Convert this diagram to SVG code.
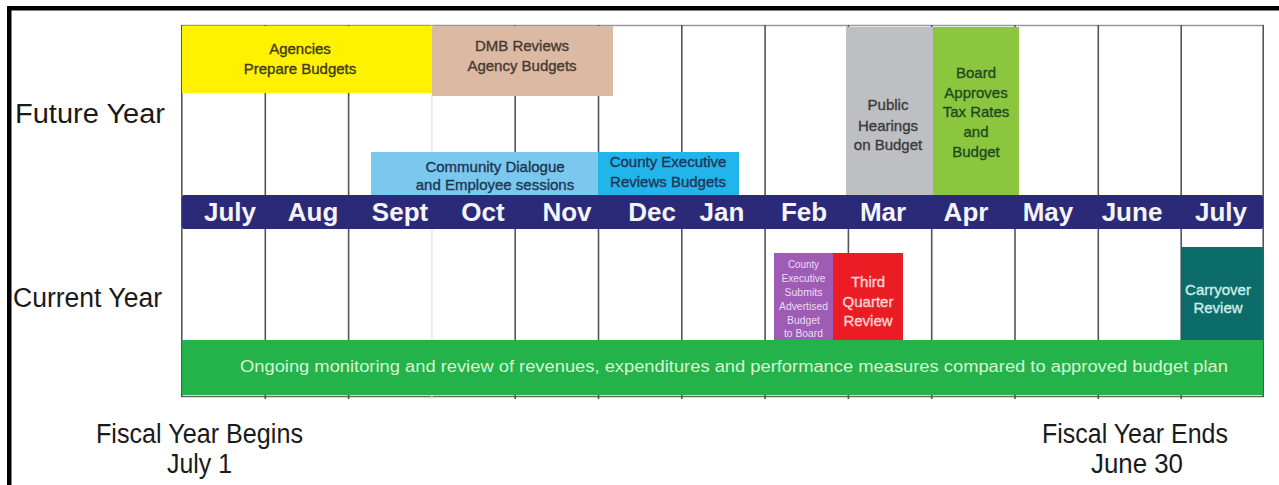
<svg xmlns="http://www.w3.org/2000/svg" width="1279" height="485" viewBox="0 0 1279 485">
  <style>
    .lbl { font-family: "Liberation Sans", Arial, sans-serif; }
    .big { font-size: 27px; fill: #1a1a1a; }
    .month { font-size: 26px; font-weight: bold; fill: #f4f4fa; text-anchor: middle; }
    .box { text-anchor: middle; font-size: 15px; stroke-width: 0.35; }
    .vline { stroke: #555; stroke-width: 1.6; }
  </style>

  <rect x="0" y="0" width="1279" height="485" fill="#ffffff"/>

  <!-- outer frame: heavy top and left rules -->
  <g id="frame">
    <rect x="7" y="6" width="1272" height="4.5" fill="#000"/>
    <rect x="7" y="6" width="4.5" height="479" fill="#000"/>
  </g>

  <!-- month grid -->
  <g id="grid">
    <line x1="181.5" y1="25.5" x2="1264" y2="25.5" stroke="#999" stroke-width="1.5"/>
    <line x1="181.5" y1="396.5" x2="1264" y2="396.5" stroke="#666" stroke-width="1.5"/>
    <line class="vline" x1="181.8" y1="25" x2="181.8" y2="397"/>
    <line class="vline" x1="265.3" y1="25" x2="265.3" y2="399"/>
    <line class="vline" x1="348.6" y1="25" x2="348.6" y2="399"/>
    <line x1="431.9" y1="25" x2="431.9" y2="399" stroke="#e4e4e4" stroke-width="1.2"/>
    <line class="vline" x1="515.2" y1="25" x2="515.2" y2="399"/>
    <line class="vline" x1="598.5" y1="25" x2="598.5" y2="399"/>
    <line class="vline" x1="681.8" y1="25" x2="681.8" y2="399"/>
    <line class="vline" x1="765.1" y1="25" x2="765.1" y2="399"/>
    <line class="vline" x1="848.4" y1="25" x2="848.4" y2="399"/>
    <line class="vline" x1="931.7" y1="25" x2="931.7" y2="399"/>
    <line class="vline" x1="1015" y1="25" x2="1015" y2="399"/>
    <line class="vline" x1="1098.3" y1="25" x2="1098.3" y2="399"/>
    <line class="vline" x1="1181.2" y1="25" x2="1181.2" y2="399"/>
    <line class="vline" x1="1263.2" y1="25" x2="1263.2" y2="397"/>
  </g>

  <!-- row labels -->
  <g id="row-labels" class="lbl">
    <text class="big" x="15" y="123" textLength="150" lengthAdjust="spacingAndGlyphs">Future Year</text>
    <text class="big" x="13" y="307" textLength="149" lengthAdjust="spacingAndGlyphs">Current Year</text>
  </g>

  <!-- future year activities -->
  <g id="agencies-prepare" class="lbl">
    <rect x="182" y="26" width="250" height="67" fill="#fff200"/>
    <text class="box" x="300" y="54" fill="#3e3a1c" stroke="#3e3a1c">Agencies</text>
    <text class="box" x="300" y="74" fill="#3e3a1c" stroke="#3e3a1c">Prepare Budgets</text>
  </g>

  <g id="dmb-reviews" class="lbl">
    <rect x="432" y="26" width="181" height="70" fill="#dbb9a2"/>
    <text class="box" x="522" y="51" fill="#463a33" stroke="#463a33">DMB Reviews</text>
    <text class="box" x="522" y="71" fill="#463a33" stroke="#463a33">Agency Budgets</text>
  </g>

  <g id="community-dialogue" class="lbl">
    <rect x="371" y="152" width="227" height="43" fill="#7ac8ee"/>
    <text class="box" x="495" y="172" fill="#1e3554" stroke="#1e3554">Community Dialogue</text>
    <text class="box" x="495" y="190" fill="#1e3554" stroke="#1e3554">and Employee sessions</text>
  </g>

  <g id="county-exec-reviews" class="lbl">
    <rect x="598" y="152" width="141" height="43" fill="#22b5ec"/>
    <text class="box" x="668" y="167" fill="#1e3554" stroke="#1e3554">County Executive</text>
    <text class="box" x="668" y="187" fill="#1e3554" stroke="#1e3554">Reviews Budgets</text>
  </g>

  <g id="public-hearings" class="lbl">
    <rect x="846" y="27" width="87" height="168" fill="#bdbfc2"/>
    <g class="box" font-size="16" fill="#3b3b3d" stroke="#3b3b3d">
      <text x="888" y="110">Public</text>
      <text x="888" y="131">Hearings</text>
      <text x="888" y="150">on Budget</text>
    </g>
  </g>

  <g id="board-approves" class="lbl">
    <rect x="933" y="27" width="86" height="168" fill="#8cc63f"/>
    <g class="box" font-size="16" fill="#1f4a1f" stroke="#1f4a1f">
      <text x="976" y="78">Board</text>
      <text x="976" y="98">Approves</text>
      <text x="976" y="117">Tax Rates</text>
      <text x="976" y="137">and</text>
      <text x="976" y="157">Budget</text>
    </g>
  </g>

  <!-- month band -->
  <g id="month-band" class="lbl">
    <rect x="182" y="195" width="1081" height="34" rx="2" fill="#2b2a78"/>
    <text class="month" x="230" y="221">July</text>
    <text class="month" x="313" y="221">Aug</text>
    <text class="month" x="400" y="221">Sept</text>
    <text class="month" x="483" y="221">Oct</text>
    <text class="month" x="567" y="221">Nov</text>
    <text class="month" x="652" y="221">Dec</text>
    <text class="month" x="722" y="221">Jan</text>
    <text class="month" x="804" y="221">Feb</text>
    <text class="month" x="883" y="221">Mar</text>
    <text class="month" x="966" y="221">Apr</text>
    <text class="month" x="1048" y="221">May</text>
    <text class="month" x="1132" y="221">June</text>
    <text class="month" x="1221" y="221">July</text>
  </g>

  <!-- current year activities -->
  <g id="county-exec-submits" class="lbl">
    <rect x="774" y="253" width="59" height="87" fill="#9f5cb4"/>
    <g text-anchor="middle" font-size="10" fill="#eadcf2">
      <text x="803.5" y="268" textLength="31" lengthAdjust="spacingAndGlyphs">County</text>
      <text x="803.5" y="282" textLength="44" lengthAdjust="spacingAndGlyphs">Executive</text>
      <text x="803.5" y="296" textLength="38" lengthAdjust="spacingAndGlyphs">Submits</text>
      <text x="803.5" y="310" textLength="49" lengthAdjust="spacingAndGlyphs">Advertised</text>
      <text x="803.5" y="324" textLength="33" lengthAdjust="spacingAndGlyphs">Budget</text>
      <text x="803.5" y="337" textLength="39" lengthAdjust="spacingAndGlyphs">to Board</text>
    </g>
  </g>

  <g id="third-quarter" class="lbl">
    <rect x="833" y="253" width="70" height="87" fill="#ec1c24"/>
    <g class="box" font-size="16" fill="#fbd6d4" stroke="#fbd6d4">
      <text x="868" y="287">Third</text>
      <text x="868" y="307">Quarter</text>
      <text x="868" y="326">Review</text>
    </g>
  </g>

  <g id="carryover-review" class="lbl">
    <rect x="1181" y="247" width="82" height="93" fill="#0b6c6a"/>
    <g class="box" font-size="14" fill="#d2ece8" stroke="#d2ece8">
      <text x="1218" y="295">Carryover</text>
      <text x="1218" y="313">Review</text>
    </g>
  </g>

  <g id="ongoing-monitoring" class="lbl">
    <rect x="182" y="340" width="1081" height="55" fill="#24b24b"/>
    <text x="240" y="372" font-size="16" fill="#d9f5d0" textLength="988" lengthAdjust="spacingAndGlyphs">Ongoing monitoring and review of revenues, expenditures and performance measures compared to approved budget plan</text>
  </g>

  <!-- fiscal year bounds -->
  <g id="fiscal-begins" class="lbl">
    <text class="big" x="96" y="443" textLength="207" lengthAdjust="spacingAndGlyphs">Fiscal Year Begins</text>
    <text class="big" x="167" y="473" textLength="65" lengthAdjust="spacingAndGlyphs">July 1</text>
  </g>

  <g id="fiscal-ends" class="lbl">
    <text class="big" x="1042" y="443" textLength="186" lengthAdjust="spacingAndGlyphs">Fiscal Year Ends</text>
    <text class="big" x="1091" y="473" textLength="92" lengthAdjust="spacingAndGlyphs">June 30</text>
  </g>
</svg>
